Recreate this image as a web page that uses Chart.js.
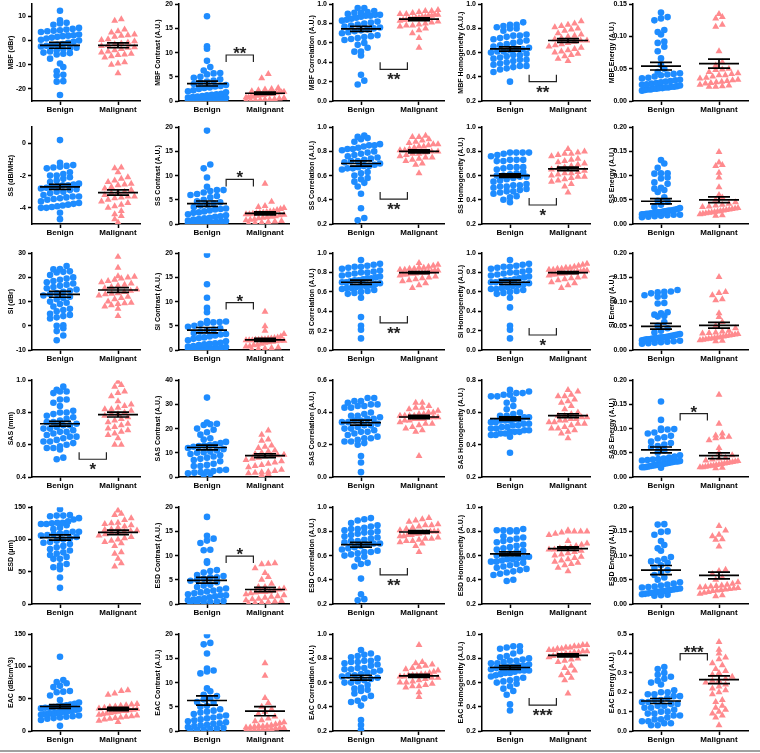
<!DOCTYPE html>
<html>
<head>
<meta charset="utf-8">
<script src="https://cdn.jsdelivr.net/npm/chart.js@4.4.1/dist/chart.umd.min.js"></script>
<style>
    body { margin: 0; background: #fff; width: 760px; height: 753px; position: relative; overflow: hidden; }
    canvas { position: absolute; }
    #rule { position: absolute; left: 0; top: 750px; width: 760px; height: 2px; background: #a0a0a0; }
</style>
</head>
<body>
<div id="rule"></div>
<script>
// row / column labels
var rowNames = ['MBF', 'SS', 'SI', 'SAS', 'ESD', 'EAC'];
var rowUnits = ['(dBr)', '(dB/MHz)', '(dBr)', '(mm)', '(\u03bcm)', '(dB/cm^3)'];
var features = ['', 'Contrast', 'Correlation', 'Homogeneity', 'Energy'];
var groups = ['Benign', 'Malignant'];

// y axis ranges and ticks, row-major (6 rows x 5 columns)
var yMin = [-25, 0, 0, 0.2, 0,   -5, 0, 0.2, 0.2, 0,   -10, 0, 0, 0, 0,   0.4, 0, 0, 0.2, 0,   0, 0, 0.2, 0.2, 0,   0, 0, 0.2, 0.2, 0];
var yMax = [15, 20, 1, 1, 0.15,  1, 20, 1, 1, 0.2,     30, 20, 1, 1, 0.2,  1, 40, 0.6, 0.8, 0.2,  150, 20, 1, 1, 0.2, 150, 20, 1, 1, 0.5];
var yTicks = [
    [-20, -10, 0, 10], [0, 5, 10, 15, 20], [0, 0.2, 0.4, 0.6, 0.8, 1], [0.2, 0.4, 0.6, 0.8, 1], [0, 0.05, 0.1, 0.15],
    [-4, -2, 0], [0, 5, 10, 15, 20], [0.2, 0.4, 0.6, 0.8, 1], [0.2, 0.4, 0.6, 0.8, 1], [0, 0.05, 0.1, 0.15, 0.2],
    [-10, 0, 10, 20, 30], [0, 5, 10, 15, 20], [0, 0.2, 0.4, 0.6, 0.8, 1], [0, 0.2, 0.4, 0.6, 0.8, 1], [0, 0.05, 0.1, 0.15, 0.2],
    [0.4, 0.6, 0.8, 1], [0, 10, 20, 30, 40], [0, 0.2, 0.4, 0.6], [0.2, 0.4, 0.6, 0.8], [0, 0.05, 0.1, 0.15, 0.2],
    [0, 50, 100, 150], [0, 5, 10, 15, 20], [0.2, 0.4, 0.6, 0.8, 1], [0.2, 0.4, 0.6, 0.8, 1], [0, 0.05, 0.1, 0.15, 0.2],
    [0, 50, 100, 150], [0, 5, 10, 15, 20], [0.2, 0.4, 0.6, 0.8, 1], [0.2, 0.4, 0.6, 0.8, 1], [0, 0.1, 0.2, 0.3, 0.4, 0.5]
];

// mean and SEM of each group, row-major
var meanB = [-2, 3.6, 0.745, 0.63, 0.054,  -2.7, 4.2, 0.70, 0.60, 0.047,  13, 4.1, 0.70, 0.70, 0.049,  0.73, 12.2, 0.337, 0.562, 0.056,  103, 4.9, 0.69, 0.615, 0.070,  38, 6.3, 0.64, 0.725, 0.155];
var semB  = [1.2, 0.5, 0.025, 0.017, 0.006,  0.15, 0.55, 0.022, 0.015, 0.0055,  1.2, 0.55, 0.022, 0.022, 0.006,  0.015, 1.0, 0.015, 0.011, 0.006,  4, 0.6, 0.02, 0.015, 0.0095,  3, 0.95, 0.02, 0.015, 0.013];
var meanM = [-2, 1.6, 0.845, 0.70, 0.058,  -3.05, 2.2, 0.80, 0.655, 0.050,  14.8, 2.1, 0.80, 0.80, 0.051,  0.787, 8.8, 0.372, 0.58, 0.044,  111, 3.0, 0.795, 0.657, 0.059,  34, 4.1, 0.655, 0.825, 0.265];
var semM  = [1.0, 0.25, 0.015, 0.015, 0.007,  0.16, 0.3, 0.012, 0.015, 0.006,  1.0, 0.3, 0.01, 0.01, 0.006,  0.015, 0.8, 0.01, 0.012, 0.006,  3.5, 0.45, 0.012, 0.015, 0.007,  2.5, 0.95, 0.013, 0.013, 0.02];

// significance brackets
var sigPanel = [1, 2, 3, 6, 7, 8, 11, 12, 13, 15, 19, 21, 22, 28, 29];
var sigStars = ['**', '**', '**', '*', '**', '*', '*', '**', '*', '*', '*', '*', '**', '***', '***'];
var sigLevel = [9.5, 0.327, 0.36, 9.2, 0.406, 0.357, 9.8, 0.28, 0.155, 0.51, 0.131, 9.9, 0.44, 0.414, 0.40];
var sigSide  = [1, -1, -1, 1, -1, -1, 1, -1, -1, -1, 1, 1, -1, -1, 1];

// MBF
var mbfBenign = [12.3, 8.3, 7.3, 7.0, 6.5, 5.2, 4.8, 4.5, 4.2, 4.0, 3.8, 3.5, 2.5, 2.2, 2.0, 1.8, 1.5, 1.2, 0.8, 0.3, 0, -0.5, -1, -1.5, -1.8, -2, -2.2, -2.5, -3, -3.2, -3.5, -4, -4.5, -5, -5.2, -5.5, -5.8, -7.5, -9.5, -11, -12.7, -14.2, -14.5, -16.8, -17.0, -22.5];
var mbfMalignant = [8.8, 8.2, 4.5, 3.8, 3.3, 2.5, 2.2, 2.0, 1.5, 0.5, 0.2, -0.3, -0.8, -1.2, -1.5, -2.0, -2.3, -2.8, -3.0, -3.5, -4.0, -4.5, -5.0, -5.5, -5.8, -6.0, -6.5, -7.0, -9.0, -9.5, -10.0, -13.5];
var mbfContrastBenign = [17.5, 11.3, 10.8, 8.3, 7.0, 6.3, 5.8, 5.7, 5.5, 5.0, 4.8, 4.5, 4.2, 4.0, 3.8, 3.5, 3.3, 3.0, 2.8, 2.5, 2.2, 2.0, 1.8, 1.5, 1.3, 1.2, 1.0, 0.8, 0.7, 0.6, 0.5, 0.4, 0.3, 0.3, 0.2, 0.2, 0.1, 0.1, 0.6, 0.9, 1.4, 2.7, 3.1, 0.4, 0.2];
var mbfContrastMalignant = [5.6, 4.7, 2.7, 2.5, 2.4, 2.2, 2.0, 1.9, 1.8, 1.7, 1.6, 1.5, 1.4, 1.3, 1.2, 1.1, 1.0, 0.9, 0.8, 0.7, 0.6, 0.5, 0.4, 0.3, 0.3, 0.2, 0.2, 0.1, 0.1, 1.8, 1.5, 1.2];
var mbfCorrBenign = [0.96, 0.96, 0.93, 0.92, 0.91, 0.91, 0.90, 0.89, 0.89, 0.88, 0.88, 0.87, 0.86, 0.85, 0.84, 0.83, 0.82, 0.81, 0.80, 0.79, 0.78, 0.77, 0.76, 0.75, 0.74, 0.73, 0.72, 0.71, 0.70, 0.68, 0.67, 0.66, 0.65, 0.64, 0.63, 0.60, 0.58, 0.55, 0.51, 0.51, 0.47, 0.27, 0.21, 0.17];
var mbfCorrMalignant = [0.94, 0.93, 0.93, 0.92, 0.91, 0.90, 0.90, 0.89, 0.89, 0.88, 0.88, 0.87, 0.87, 0.86, 0.86, 0.85, 0.85, 0.84, 0.84, 0.83, 0.82, 0.81, 0.80, 0.79, 0.78, 0.78, 0.77, 0.75, 0.73, 0.70, 0.65, 0.55];
var mbfHomogBenign = [0.85, 0.83, 0.83, 0.82, 0.81, 0.80, 0.80, 0.78, 0.75, 0.74, 0.74, 0.73, 0.72, 0.71, 0.70, 0.69, 0.68, 0.67, 0.66, 0.65, 0.64, 0.63, 0.62, 0.61, 0.60, 0.59, 0.58, 0.57, 0.56, 0.55, 0.54, 0.53, 0.52, 0.51, 0.50, 0.49, 0.49, 0.48, 0.47, 0.46, 0.44, 0.36, 0.63, 0.61, 0.58, 0.54];
var mbfHomogMalignant = [0.86, 0.84, 0.83, 0.82, 0.81, 0.80, 0.79, 0.78, 0.76, 0.75, 0.74, 0.73, 0.72, 0.71, 0.70, 0.70, 0.69, 0.68, 0.67, 0.66, 0.65, 0.64, 0.63, 0.62, 0.61, 0.60, 0.59, 0.58, 0.57, 0.55, 0.53];
var mbfEnergyBenign = [0.137, 0.130, 0.128, 0.125, 0.110, 0.107, 0.103, 0.092, 0.090, 0.084, 0.077, 0.066, 0.056, 0.050, 0.045, 0.043, 0.042, 0.040, 0.038, 0.035, 0.033, 0.032, 0.031, 0.030, 0.029, 0.028, 0.027, 0.026, 0.025, 0.024, 0.023, 0.022, 0.022, 0.021, 0.021, 0.020, 0.020, 0.019, 0.019, 0.018, 0.018, 0.017, 0.016, 0.036, 0.041];
var mbfEnergyMalignant = [0.135, 0.130, 0.128, 0.118, 0.115, 0.077, 0.060, 0.055, 0.050, 0.049, 0.048, 0.045, 0.043, 0.042, 0.040, 0.040, 0.038, 0.036, 0.035, 0.033, 0.032, 0.031, 0.030, 0.029, 0.028, 0.027, 0.025, 0.024, 0.023, 0.022, 0.022];

// SS
var ssBenign = [0.2, -1.2, -1.35, -1.4, -1.45, -1.5, -1.55, -1.8, -1.9, -2.0, -2.1, -2.2, -2.3, -2.4, -2.5, -2.55, -2.6, -2.65, -2.7, -2.75, -2.8, -2.85, -2.9, -3.0, -3.1, -3.2, -3.3, -3.35, -3.4, -3.45, -3.5, -3.6, -3.7, -3.75, -3.8, -3.85, -3.9, -3.95, -4.0, -4.0, -4.3, -4.7, -2.6, -3.3, -3.0, -2.0];
var ssMalignant = [-1.5, -1.55, -1.8, -2.1, -2.2, -2.3, -2.4, -2.5, -2.55, -2.6, -2.7, -2.8, -2.9, -3.0, -3.05, -3.1, -3.2, -3.3, -3.35, -3.4, -3.5, -3.6, -3.7, -3.8, -3.9, -4.0, -4.2, -4.4, -4.5, -4.7, -4.9, -3.3];
var ssContrastBenign = [19.3, 12.3, 11.5, 9.6, 7.7, 7.0, 7.0, 6.8, 6.5, 6.2, 6.0, 5.8, 5.5, 5.0, 4.7, 4.5, 4.3, 4.0, 3.8, 3.5, 3.2, 3.0, 2.8, 2.6, 2.3, 2.0, 1.8, 1.5, 1.3, 1.0, 0.9, 0.7, 0.5, 0.4, 0.3, 0.2, 0.2, 0.1, 0.1, 0.6, 1.2, 1.6, 2.4, 3.1, 0.3];
var ssContrastMalignant = [8.3, 4.6, 3.7, 3.5, 3.3, 3.1, 2.9, 2.7, 2.5, 2.4, 2.3, 2.2, 2.1, 2.0, 1.9, 1.8, 1.6, 1.5, 1.3, 1.2, 1.0, 0.9, 0.8, 0.6, 0.5, 0.4, 0.3, 0.2, 0.1, 2.6, 2.0, 1.4];
var ssCorrBenign = [0.93, 0.92, 0.91, 0.90, 0.88, 0.86, 0.85, 0.85, 0.84, 0.83, 0.82, 0.82, 0.81, 0.80, 0.79, 0.78, 0.77, 0.76, 0.75, 0.74, 0.73, 0.72, 0.71, 0.70, 0.69, 0.68, 0.67, 0.66, 0.66, 0.65, 0.63, 0.62, 0.60, 0.58, 0.57, 0.55, 0.54, 0.51, 0.45, 0.33, 0.25, 0.23, 0.72, 0.68];
var ssCorrMalignant = [0.93, 0.92, 0.92, 0.90, 0.89, 0.88, 0.87, 0.86, 0.86, 0.85, 0.84, 0.84, 0.83, 0.82, 0.81, 0.81, 0.80, 0.80, 0.79, 0.78, 0.78, 0.77, 0.76, 0.75, 0.75, 0.74, 0.73, 0.72, 0.70, 0.69, 0.62];
var ssHomogBenign = [0.79, 0.79, 0.79, 0.79, 0.78, 0.77, 0.76, 0.73, 0.73, 0.73, 0.72, 0.72, 0.67, 0.67, 0.67, 0.66, 0.65, 0.63, 0.62, 0.61, 0.60, 0.60, 0.59, 0.59, 0.58, 0.57, 0.56, 0.55, 0.53, 0.52, 0.52, 0.51, 0.51, 0.50, 0.49, 0.48, 0.47, 0.47, 0.46, 0.45, 0.43, 0.42, 0.40, 0.38];
var ssHomogMalignant = [0.82, 0.80, 0.79, 0.78, 0.78, 0.77, 0.76, 0.74, 0.73, 0.72, 0.71, 0.70, 0.69, 0.68, 0.67, 0.66, 0.65, 0.64, 0.63, 0.62, 0.62, 0.61, 0.60, 0.59, 0.59, 0.58, 0.57, 0.56, 0.55, 0.53, 0.51, 0.46];
var ssEnergyBenign = [0.132, 0.125, 0.116, 0.105, 0.105, 0.104, 0.096, 0.094, 0.086, 0.083, 0.075, 0.073, 0.070, 0.066, 0.055, 0.048, 0.046, 0.040, 0.035, 0.033, 0.031, 0.030, 0.029, 0.028, 0.027, 0.026, 0.025, 0.024, 0.023, 0.022, 0.022, 0.021, 0.021, 0.020, 0.020, 0.019, 0.019, 0.018, 0.017, 0.016, 0.015, 0.014, 0.028, 0.024];
var ssEnergyMalignant = [0.149, 0.127, 0.122, 0.120, 0.106, 0.096, 0.076, 0.060, 0.055, 0.050, 0.045, 0.042, 0.040, 0.038, 0.036, 0.035, 0.033, 0.032, 0.031, 0.030, 0.029, 0.028, 0.027, 0.026, 0.025, 0.024, 0.023, 0.022, 0.021, 0.020, 0.018, 0.017];

// SI
var siBenign = [24.7, 23.5, 23.3, 22.5, 22.3, 22.0, 21.0, 20.0, 19.5, 19.0, 18.5, 18.0, 17.5, 17.0, 16.5, 16.0, 15.5, 15.0, 14.5, 14.0, 13.5, 13.0, 12.5, 12.0, 11.5, 11.0, 10.0, 9.5, 9.0, 8.0, 7.0, 6.5, 6.0, 5.0, 4.5, 4.0, 3.5, 3.0, 0.2, 0.0, -1.0, -2.2, -4.0, -6.0];
var siMalignant = [28.5, 24.0, 20.5, 20.3, 20.0, 19.5, 19.0, 18.5, 18.0, 17.5, 17.0, 16.5, 16.0, 15.5, 15.0, 14.5, 14.0, 13.5, 13.0, 12.5, 12.0, 11.5, 11.0, 10.0, 9.5, 9.3, 9.0, 8.5, 8.0, 7.0, 4.0, 13.2];
var siContrastBenign = [19.7, 13.6, 10.8, 8.7, 7.8, 6.0, 5.9, 5.8, 5.7, 5.6, 5.4, 5.0, 4.8, 4.5, 4.2, 4.0, 3.8, 3.5, 3.2, 3.0, 2.8, 2.5, 2.3, 2.0, 1.8, 1.5, 1.3, 1.2, 1.0, 0.8, 0.7, 0.5, 0.4, 0.3, 0.2, 0.2, 0.1, 0.1, 0.6, 1.4, 2.6, 3.3, 0.3];
var siContrastMalignant = [7.9, 4.9, 4.0, 3.3, 2.8, 2.6, 2.5, 2.4, 2.3, 2.2, 2.1, 2.0, 2.0, 1.9, 1.9, 1.8, 1.7, 1.6, 1.5, 1.3, 1.1, 1.0, 0.8, 0.7, 0.5, 0.4, 0.3, 0.2, 0.1, 2.2, 2.1, 2.0];
var siCorrBenign = [0.93, 0.89, 0.88, 0.87, 0.86, 0.86, 0.85, 0.84, 0.82, 0.81, 0.80, 0.80, 0.79, 0.78, 0.77, 0.76, 0.75, 0.74, 0.74, 0.73, 0.72, 0.71, 0.70, 0.69, 0.68, 0.67, 0.66, 0.65, 0.64, 0.64, 0.63, 0.62, 0.61, 0.60, 0.59, 0.58, 0.54, 0.34, 0.25, 0.21, 0.12, 0.70, 0.72, 0.66];
var siCorrMalignant = [0.90, 0.88, 0.87, 0.86, 0.85, 0.85, 0.84, 0.84, 0.83, 0.83, 0.82, 0.82, 0.81, 0.81, 0.80, 0.80, 0.80, 0.79, 0.79, 0.79, 0.78, 0.78, 0.77, 0.76, 0.75, 0.74, 0.73, 0.72, 0.71, 0.69, 0.67, 0.64];
var siHomogBenign = [0.93, 0.89, 0.88, 0.87, 0.86, 0.86, 0.85, 0.84, 0.82, 0.81, 0.80, 0.80, 0.79, 0.78, 0.77, 0.76, 0.75, 0.74, 0.73, 0.72, 0.71, 0.70, 0.69, 0.68, 0.67, 0.66, 0.65, 0.64, 0.63, 0.63, 0.62, 0.61, 0.60, 0.59, 0.58, 0.54, 0.44, 0.25, 0.21, 0.12, 0.72, 0.70];
var siHomogMalignant = [0.89, 0.88, 0.87, 0.86, 0.85, 0.85, 0.84, 0.84, 0.83, 0.83, 0.82, 0.82, 0.81, 0.81, 0.80, 0.80, 0.80, 0.79, 0.79, 0.79, 0.78, 0.78, 0.77, 0.76, 0.75, 0.74, 0.73, 0.72, 0.70, 0.69, 0.67, 0.64];
var siEnergyBenign = [0.124, 0.121, 0.120, 0.119, 0.117, 0.113, 0.111, 0.110, 0.097, 0.096, 0.078, 0.076, 0.073, 0.070, 0.069, 0.058, 0.050, 0.045, 0.040, 0.036, 0.033, 0.031, 0.030, 0.029, 0.028, 0.027, 0.026, 0.025, 0.024, 0.024, 0.023, 0.022, 0.022, 0.021, 0.020, 0.019, 0.018, 0.017, 0.016, 0.015, 0.014, 0.013, 0.026, 0.032];
var siEnergyMalignant = [0.151, 0.120, 0.118, 0.113, 0.105, 0.103, 0.076, 0.068, 0.058, 0.050, 0.045, 0.040, 0.038, 0.036, 0.035, 0.034, 0.033, 0.032, 0.031, 0.030, 0.029, 0.028, 0.027, 0.026, 0.025, 0.024, 0.023, 0.022, 0.021, 0.020, 0.019, 0.018];

// SAS
var sasBenign = [0.96, 0.94, 0.93, 0.93, 0.92, 0.88, 0.88, 0.86, 0.84, 0.81, 0.80, 0.80, 0.79, 0.78, 0.77, 0.76, 0.75, 0.74, 0.73, 0.72, 0.72, 0.71, 0.70, 0.69, 0.68, 0.68, 0.67, 0.66, 0.65, 0.64, 0.63, 0.62, 0.61, 0.60, 0.59, 0.58, 0.58, 0.57, 0.52, 0.51, 0.70, 0.65, 0.74, 0.62];
var sasMalignant = [0.99, 0.97, 0.96, 0.93, 0.92, 0.90, 0.87, 0.85, 0.84, 0.83, 0.82, 0.82, 0.81, 0.80, 0.79, 0.79, 0.78, 0.77, 0.76, 0.75, 0.74, 0.73, 0.72, 0.71, 0.70, 0.69, 0.68, 0.67, 0.66, 0.64, 0.60, 0.60];
var sasContrastBenign = [32.8, 22.5, 22.0, 21.8, 21.5, 20.0, 19.5, 18.5, 17.5, 16.0, 15.5, 14.5, 14.0, 13.5, 13.2, 13.0, 12.5, 12.0, 11.5, 11.0, 10.5, 10.0, 9.5, 9.0, 8.5, 8.0, 7.5, 7.0, 6.5, 5.5, 5.0, 4.5, 4.5, 3.0, 2.8, 2.5, 2.3, 2.0, 1.8, 1.5, 1.3, 1.0, 12.8, 10.2];
var sasContrastMalignant = [19.2, 17.5, 15.5, 15.0, 13.0, 12.5, 12.0, 11.0, 10.5, 10.0, 9.5, 9.0, 8.8, 8.5, 8.0, 7.5, 7.0, 6.5, 6.0, 5.5, 5.0, 4.5, 4.0, 3.0, 2.5, 2.2, 2.0, 1.8, 1.5, 1.2, 0.8, 9.2];
var sasCorrBenign = [0.49, 0.49, 0.47, 0.47, 0.46, 0.45, 0.45, 0.44, 0.44, 0.43, 0.43, 0.40, 0.39, 0.38, 0.38, 0.37, 0.36, 0.35, 0.35, 0.34, 0.33, 0.32, 0.31, 0.30, 0.29, 0.28, 0.28, 0.27, 0.26, 0.25, 0.24, 0.24, 0.23, 0.22, 0.22, 0.21, 0.20, 0.13, 0.09, 0.03, 0.34, 0.36, 0.30, 0.32];
var sasCorrMalignant = [0.46, 0.46, 0.44, 0.43, 0.43, 0.42, 0.41, 0.40, 0.40, 0.39, 0.39, 0.38, 0.38, 0.38, 0.37, 0.37, 0.37, 0.36, 0.36, 0.35, 0.35, 0.34, 0.33, 0.33, 0.32, 0.31, 0.30, 0.29, 0.28, 0.13, 0.36, 0.38];
var sasHomogBenign = [0.74, 0.73, 0.72, 0.72, 0.71, 0.71, 0.70, 0.70, 0.68, 0.66, 0.64, 0.62, 0.60, 0.59, 0.58, 0.58, 0.57, 0.57, 0.56, 0.56, 0.55, 0.55, 0.54, 0.54, 0.53, 0.53, 0.52, 0.52, 0.51, 0.51, 0.50, 0.50, 0.49, 0.49, 0.48, 0.48, 0.48, 0.47, 0.47, 0.46, 0.46, 0.45, 0.35, 0.55];
var sasHomogMalignant = [0.74, 0.73, 0.71, 0.70, 0.70, 0.68, 0.67, 0.66, 0.64, 0.62, 0.60, 0.59, 0.58, 0.57, 0.57, 0.56, 0.56, 0.55, 0.55, 0.54, 0.54, 0.53, 0.53, 0.52, 0.51, 0.50, 0.50, 0.49, 0.48, 0.47, 0.44, 0.58];
var sasEnergyBenign = [0.156, 0.118, 0.100, 0.099, 0.098, 0.097, 0.092, 0.090, 0.085, 0.082, 0.080, 0.073, 0.070, 0.067, 0.064, 0.062, 0.055, 0.050, 0.045, 0.042, 0.040, 0.038, 0.036, 0.035, 0.034, 0.033, 0.032, 0.031, 0.030, 0.029, 0.028, 0.027, 0.026, 0.025, 0.024, 0.023, 0.022, 0.021, 0.020, 0.020, 0.019, 0.032, 0.037, 0.026];
var sasEnergyMalignant = [0.170, 0.110, 0.090, 0.086, 0.083, 0.082, 0.080, 0.076, 0.060, 0.050, 0.045, 0.040, 0.038, 0.036, 0.034, 0.033, 0.032, 0.031, 0.030, 0.029, 0.028, 0.027, 0.026, 0.025, 0.024, 0.023, 0.022, 0.021, 0.020, 0.020, 0.019, 0.018];

// ESD
var esdBenign = [147, 138, 137, 137, 136, 133, 131, 128, 126, 126, 125, 124, 124, 122, 118, 116, 112, 110, 109, 108, 107, 106, 104, 102, 100, 98, 95, 93, 90, 88, 85, 83, 80, 78, 76, 73, 70, 70, 62, 60, 57, 54, 41, 25, 112, 96];
var esdMalignant = [145, 140, 138, 133, 130, 126, 125, 124, 122, 120, 118, 116, 115, 114, 113, 112, 111, 110, 108, 106, 104, 102, 100, 98, 96, 94, 90, 80, 78, 70, 63, 58];
var esdContrastBenign = [18.0, 14.1, 13.5, 13.1, 12.6, 11.2, 11.1, 8.8, 8.5, 7.0, 6.8, 6.5, 6.0, 5.8, 5.5, 5.2, 5.0, 4.8, 4.5, 4.0, 3.8, 3.5, 3.0, 2.8, 2.6, 2.4, 2.2, 2.0, 1.8, 1.6, 1.4, 1.2, 1.0, 0.9, 0.8, 0.6, 0.5, 0.4, 0.3, 0.2, 0.1, 5.5, 3.2, 1.8];
var esdContrastMalignant = [8.4, 8.3, 8.2, 7.4, 6.4, 5.6, 5.0, 4.2, 3.5, 3.2, 3.0, 2.8, 2.6, 2.5, 2.4, 2.2, 2.0, 1.8, 1.6, 1.5, 1.3, 1.1, 1.0, 0.8, 0.6, 0.5, 0.4, 0.3, 0.2, 0.1, 2.5, 3.5];
var esdCorrBenign = [0.91, 0.90, 0.89, 0.87, 0.85, 0.84, 0.83, 0.82, 0.82, 0.81, 0.80, 0.79, 0.79, 0.78, 0.77, 0.76, 0.75, 0.74, 0.73, 0.72, 0.72, 0.71, 0.70, 0.69, 0.68, 0.67, 0.66, 0.65, 0.64, 0.63, 0.63, 0.62, 0.61, 0.60, 0.59, 0.57, 0.54, 0.53, 0.51, 0.41, 0.28, 0.24, 0.23, 0.70];
var esdCorrMalignant = [0.91, 0.90, 0.89, 0.88, 0.86, 0.85, 0.85, 0.84, 0.83, 0.82, 0.81, 0.80, 0.80, 0.79, 0.79, 0.78, 0.78, 0.77, 0.77, 0.76, 0.76, 0.75, 0.74, 0.74, 0.73, 0.72, 0.72, 0.71, 0.70, 0.68, 0.63, 0.80];
var esdHomogBenign = [0.82, 0.81, 0.81, 0.81, 0.81, 0.80, 0.80, 0.76, 0.75, 0.74, 0.73, 0.72, 0.71, 0.69, 0.68, 0.67, 0.66, 0.65, 0.64, 0.63, 0.62, 0.61, 0.60, 0.59, 0.58, 0.57, 0.57, 0.56, 0.55, 0.55, 0.54, 0.53, 0.52, 0.51, 0.50, 0.49, 0.48, 0.47, 0.46, 0.45, 0.44, 0.40, 0.39, 0.58];
var esdHomogMalignant = [0.81, 0.80, 0.80, 0.80, 0.80, 0.79, 0.78, 0.77, 0.72, 0.70, 0.69, 0.68, 0.67, 0.66, 0.66, 0.65, 0.64, 0.63, 0.62, 0.61, 0.60, 0.59, 0.58, 0.57, 0.56, 0.55, 0.54, 0.53, 0.52, 0.50, 0.47, 0.65];
var esdEnergyBenign = [0.165, 0.164, 0.150, 0.149, 0.143, 0.130, 0.122, 0.115, 0.110, 0.097, 0.093, 0.090, 0.088, 0.085, 0.080, 0.075, 0.070, 0.065, 0.060, 0.055, 0.050, 0.045, 0.042, 0.040, 0.038, 0.036, 0.034, 0.032, 0.031, 0.030, 0.029, 0.028, 0.027, 0.026, 0.025, 0.024, 0.023, 0.022, 0.021, 0.020, 0.019, 0.018, 0.017, 0.035];
var esdEnergyMalignant = [0.161, 0.152, 0.143, 0.140, 0.134, 0.133, 0.119, 0.071, 0.068, 0.062, 0.055, 0.050, 0.045, 0.042, 0.040, 0.038, 0.037, 0.036, 0.035, 0.034, 0.033, 0.032, 0.031, 0.030, 0.029, 0.028, 0.027, 0.025, 0.023, 0.021, 0.018, 0.016];

// EAC
var eacBenign = [115, 79, 76, 74, 70, 68, 62, 61, 60, 55, 48, 44, 42, 41, 40, 39, 38, 37, 36, 35, 34, 33, 32, 31, 30, 29, 28, 27, 26, 26, 25, 24, 23, 22, 21, 20, 19, 17, 8, 30, 28, 36, 33, 27];
var eacMalignant = [63, 62, 58, 56, 42, 41, 40, 39, 38, 37, 36, 35, 34, 33, 32, 31, 30, 29, 28, 27, 26, 25, 24, 23, 22, 21, 20, 19, 18, 16, 14, 31];
var eacContrastBenign = [19.8, 18.2, 17.9, 16.0, 12.9, 12.5, 12.3, 11.9, 8.8, 8.2, 7.5, 7.2, 6.8, 6.5, 6.0, 5.8, 5.2, 5.0, 4.5, 4.2, 4.0, 3.8, 3.5, 3.2, 2.8, 2.6, 2.4, 2.2, 2.0, 1.8, 1.5, 1.3, 1.2, 1.0, 0.8, 0.6, 0.5, 0.4, 0.3, 0.2, 0.1, 3.0, 1.6];
var eacContrastMalignant = [14.0, 11.4, 6.8, 5.8, 5.0, 4.5, 4.0, 3.5, 3.0, 2.6, 2.2, 2.0, 1.8, 1.6, 1.4, 1.2, 1.1, 1.0, 0.9, 0.8, 0.7, 0.6, 0.5, 0.4, 0.3, 0.2, 0.2, 0.1, 0.1, 1.0, 0.6, 0.3];
var eacCorrBenign = [0.87, 0.84, 0.83, 0.82, 0.81, 0.80, 0.78, 0.78, 0.77, 0.77, 0.76, 0.75, 0.74, 0.72, 0.72, 0.71, 0.71, 0.70, 0.69, 0.68, 0.67, 0.66, 0.65, 0.64, 0.63, 0.62, 0.61, 0.60, 0.58, 0.56, 0.55, 0.54, 0.53, 0.51, 0.49, 0.47, 0.45, 0.44, 0.41, 0.29, 0.25, 0.21, 0.66, 0.60];
var eacCorrMalignant = [0.91, 0.77, 0.76, 0.75, 0.74, 0.73, 0.72, 0.71, 0.70, 0.69, 0.68, 0.67, 0.67, 0.66, 0.66, 0.65, 0.65, 0.64, 0.64, 0.63, 0.62, 0.61, 0.60, 0.60, 0.59, 0.58, 0.57, 0.57, 0.56, 0.52, 0.48, 0.66];
var eacHomogBenign = [0.90, 0.90, 0.89, 0.88, 0.86, 0.84, 0.82, 0.81, 0.80, 0.79, 0.78, 0.77, 0.76, 0.75, 0.74, 0.73, 0.73, 0.72, 0.71, 0.70, 0.70, 0.69, 0.68, 0.67, 0.66, 0.65, 0.64, 0.63, 0.62, 0.61, 0.60, 0.59, 0.57, 0.55, 0.53, 0.50, 0.42, 0.37, 0.72, 0.74, 0.76, 0.68, 0.70, 0.78];
var eacHomogMalignant = [0.91, 0.91, 0.90, 0.90, 0.89, 0.89, 0.88, 0.88, 0.87, 0.87, 0.86, 0.86, 0.85, 0.85, 0.84, 0.84, 0.83, 0.82, 0.81, 0.80, 0.79, 0.78, 0.77, 0.74, 0.72, 0.70, 0.68, 0.66, 0.64, 0.62, 0.51, 0.83];
var eacEnergyBenign = [0.33, 0.32, 0.30, 0.29, 0.28, 0.27, 0.26, 0.25, 0.24, 0.21, 0.20, 0.20, 0.19, 0.19, 0.18, 0.17, 0.16, 0.15, 0.15, 0.14, 0.14, 0.13, 0.12, 0.12, 0.11, 0.10, 0.10, 0.09, 0.09, 0.08, 0.08, 0.07, 0.06, 0.06, 0.05, 0.05, 0.04, 0.04, 0.03, 0.03, 0.16, 0.18, 0.13];
var eacEnergyMalignant = [0.46, 0.42, 0.40, 0.38, 0.37, 0.35, 0.34, 0.32, 0.31, 0.30, 0.29, 0.28, 0.27, 0.26, 0.25, 0.24, 0.23, 0.22, 0.21, 0.20, 0.19, 0.16, 0.15, 0.13, 0.12, 0.11, 0.10, 0.09, 0.08, 0.07, 0.03, 0.26];

var benignData = [
    mbfBenign, mbfContrastBenign, mbfCorrBenign, mbfHomogBenign, mbfEnergyBenign,
    ssBenign, ssContrastBenign, ssCorrBenign, ssHomogBenign, ssEnergyBenign,
    siBenign, siContrastBenign, siCorrBenign, siHomogBenign, siEnergyBenign,
    sasBenign, sasContrastBenign, sasCorrBenign, sasHomogBenign, sasEnergyBenign,
    esdBenign, esdContrastBenign, esdCorrBenign, esdHomogBenign, esdEnergyBenign,
    eacBenign, eacContrastBenign, eacCorrBenign, eacHomogBenign, eacEnergyBenign
];
var malignantData = [
    mbfMalignant, mbfContrastMalignant, mbfCorrMalignant, mbfHomogMalignant, mbfEnergyMalignant,
    ssMalignant, ssContrastMalignant, ssCorrMalignant, ssHomogMalignant, ssEnergyMalignant,
    siMalignant, siContrastMalignant, siCorrMalignant, siHomogMalignant, siEnergyMalignant,
    sasMalignant, sasContrastMalignant, sasCorrMalignant, sasHomogMalignant, sasEnergyMalignant,
    esdMalignant, esdContrastMalignant, esdCorrMalignant, esdHomogMalignant, esdEnergyMalignant,
    eacMalignant, eacContrastMalignant, eacCorrMalignant, eacHomogMalignant, eacEnergyMalignant
];

// page layout (px)
var axisX = [32, 179, 333, 482, 633];
var plotW = [108, 110, 111, 108, 115];
var plotTop = [4, 127, 253, 380, 507, 634];
var PLOT_H = 97, LEFT = 32, PAD_T = 6, PAD_R = 4, X_AXIS_H = 20;
var BENIGN_PX = 28, UNIT_PX = 58, ROW_H = 6.4, GAP = 6.6, MAX_SPREAD = 19;

Chart.defaults.font.family = '"Liberation Sans", Arial, sans-serif';
Chart.defaults.color = '#000';

// mean line, SEM whiskers and significance bracket
var overlay = {
    id: 'overlay',
    afterDatasetsDraw: function(chart, args, opts) {
        var c = chart.ctx, xs = chart.scales.x, ys = chart.scales.y, p = opts.panel;
        c.save();
        c.strokeStyle = '#000';
        c.lineWidth = 1.7;
        [[meanB[p], semB[p]], [meanM[p], semM[p]]].forEach(function(ms, i) {
            var cx = xs.getPixelForValue(i + 1);
            var ym = ys.getPixelForValue(ms[0]);
            var yt = ys.getPixelForValue(ms[0] + ms[1]);
            var yb = ys.getPixelForValue(ms[0] - ms[1]);
            c.beginPath();
            c.moveTo(cx - 20, ym); c.lineTo(cx + 20, ym);
            c.moveTo(cx - 11, yt); c.lineTo(cx + 11, yt);
            c.moveTo(cx - 11, yb); c.lineTo(cx + 11, yb);
            c.moveTo(cx, yt); c.lineTo(cx, yb);
            c.stroke();
        });

        var s = sigPanel.indexOf(p);
        if (s >= 0) {
            var x1 = xs.getPixelForValue(1.33), x2 = xs.getPixelForValue(1.8);
            var y = ys.getPixelForValue(sigLevel[s]), side = sigSide[s];
            c.lineWidth = 1.2;
            c.strokeStyle = '#222';
            c.beginPath();
            c.moveTo(x1, y + side * 7);
            c.lineTo(x1, y);
            c.lineTo(x2, y);
            c.lineTo(x2, y + side * 7);
            c.stroke();
            c.fillStyle = '#222';
            c.font = 'bold 17px "Liberation Sans", Arial, sans-serif';
            c.textAlign = 'center';
            c.textBaseline = 'alphabetic';
            c.fillText(sigStars[s], (x1 + x2) / 2, y - side * 6 + 10);
        }
        c.restore();
    }
};

// scatter-dot layout: values that fall in the same pixel row sit side by side
function swarm(chart) {
    var xs = chart.scales.x, ys = chart.scales.y;
    chart.data.datasets.forEach(function(ds, i) {
        var cx = xs.getPixelForValue(i + 1);
        var rows = {};
        ds.values.forEach(function(v) {
            var py = ys.getPixelForValue(v);
            var key = Math.round((ys.bottom - py) / ROW_H);
            (rows[key] = rows[key] || []).push(v);
        });
        var data = [];
        Object.keys(rows).forEach(function(key) {
            var row = rows[key].slice().sort(function(a, b) { return a - b; });
            var n = row.length;
            var sp = n > 1 ? Math.min(GAP, 2 * MAX_SPREAD / (n - 1)) : 0;
            row.forEach(function(v, j) {
                data.push({ x: xs.getValueForPixel(cx + (j - (n - 1) / 2) * sp), y: v });
            });
        });
        ds.data = data;
    });
    chart.update('none');
}

function makePanel(row, col) {
    var p = row * 5 + col;
    var w = plotW[col];
    var canvas = document.createElement('canvas');
    canvas.width = LEFT + w + PAD_R;
    canvas.height = PAD_T + PLOT_H + X_AXIS_H;
    canvas.style.left = (axisX[col] - LEFT) + 'px';
    canvas.style.top = (plotTop[row] - PAD_T) + 'px';
    document.body.appendChild(canvas);

    var title = col === 0 ? rowNames[row] + ' ' + rowUnits[row] : rowNames[row] + ' ' + features[col] + ' (A.U.)';
    var ticks = yTicks[p];
    var step = ticks[1] - ticks[0];
    var dec = step >= 1 ? 0 : Math.ceil(-Math.log10(step) - 1e-9);
    var xMin = 1 - BENIGN_PX / UNIT_PX, xMax = 1 + (w - BENIGN_PX) / UNIT_PX;

    var chart = new Chart(canvas, {
        type: 'scatter',
        data: {
            datasets: [{
                label: groups[0],
                values: benignData[p],
                data: benignData[p].map(function(v) { return { x: 1, y: v }; }),
                pointStyle: 'circle',
                pointRadius: 3.3,
                backgroundColor: '#1E8CFF',
                borderWidth: 0,
            }, {
                label: groups[1],
                values: malignantData[p],
                data: malignantData[p].map(function(v) { return { x: 2, y: v }; }),
                pointStyle: 'triangle',
                pointRadius: 4,
                backgroundColor: '#FF8A8E',
                borderWidth: 0,
            }]
        },
        options: {
            responsive: false,
            animation: false,
            events: [],
            devicePixelRatio: 1,
            layout: { padding: { top: PAD_T, right: PAD_R, left: 0, bottom: 0 } },
            plugins: {
                legend: { display: false },
                tooltip: { enabled: false },
                overlay: { panel: p }
            },
            scales: {
                x: {
                    type: 'linear',
                    min: xMin,
                    max: xMax,
                    afterBuildTicks: function(s) { s.ticks = [{ value: 1 }, { value: 2 }]; },
                    afterFit: function(s) { s.height = X_AXIS_H; },
                    ticks: {
                        padding: 0,
                        maxRotation: 0,
                        font: { size: 8, weight: 'bold' },
                        callback: function(v) { return v === 1 ? groups[0] : groups[1]; }
                    },
                    grid: { drawOnChartArea: false, tickLength: 4, tickWidth: 1.5, tickColor: '#000' },
                    border: { color: '#000', width: 1.5 }
                },
                y: {
                    min: yMin[p],
                    max: yMax[p],
                    afterBuildTicks: function(s) { s.ticks = ticks.map(function(v) { return { value: v }; }); },
                    afterFit: function(s) { s.width = LEFT; },
                    ticks: {
                        padding: 2,
                        font: { size: 7, weight: 'bold' },
                        callback: function(v) { return Number(v).toFixed(dec); }
                    },
                    title: {
                        display: true,
                        text: title,
                        font: { size: 7, weight: 'bold' },
                        padding: { top: 7, bottom: 0 }
                    },
                    grid: { drawOnChartArea: false, tickLength: 4, tickWidth: 1.5, tickColor: '#000' },
                    border: { color: '#000', width: 1.5 }
                }
            }
        },
        plugins: [overlay]
    });
    swarm(chart);
}

for (var r = 0; r < 6; r++) {
    for (var k = 0; k < 5; k++) {
        makePanel(r, k);
    }
}
</script>
</body>
</html>
